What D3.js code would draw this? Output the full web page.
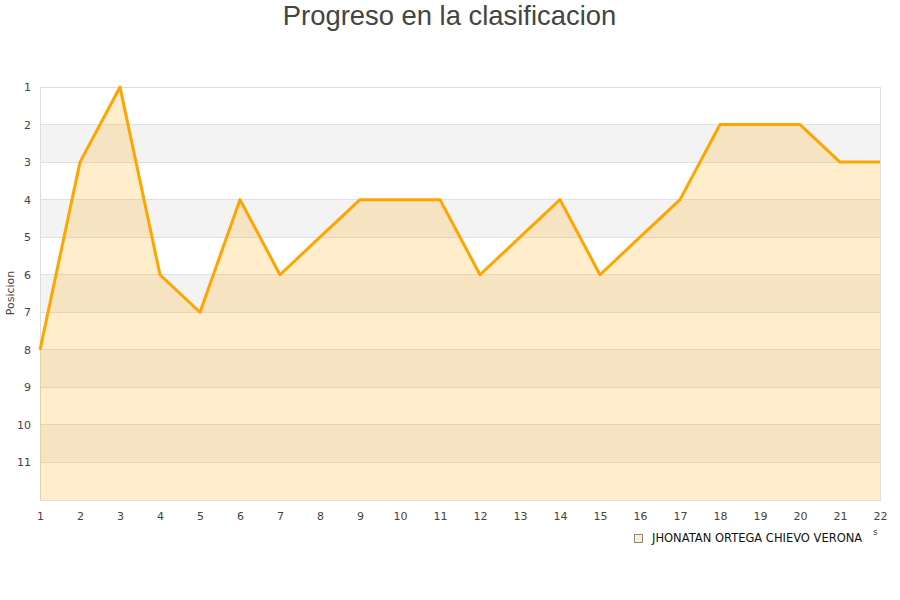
<!DOCTYPE html>
<html>
<head>
<meta charset="utf-8">
<script src="https://cdn.jsdelivr.net/npm/d3@7"></script>
<style>
  body { margin: 0; background: #fff; }
  text { font-family: "DejaVu Sans", sans-serif; }
</style>
</head>
<body>
<div id="chart"></div>
<script>
var width = 900;
var height = 600;

// jornadas y posicion
var jornadas = [1, 2, 3, 4, 5, 6, 7, 8, 9, 10, 11, 12, 13, 14, 15, 16, 17, 18, 19, 20, 21, 22];
var posiciones = [8, 3, 1, 6, 7, 4, 6, 5, 4, 4, 4, 6, 5, 4, 6, 5, 4, 2, 2, 2, 3, 3];
var yTicks = [1, 2, 3, 4, 5, 6, 7, 8, 9, 10, 11];
var serieNombre = "JHONATAN ORTEGA CHIEVO VERONA";

var mLeft = 40, mRight = 880, mTop = 87, mBottom = 500;

var svg = d3.select("#chart")
    .append("svg")
        .attr("width", width)
        .attr("height", height);

var x = d3.scaleLinear().domain([1, 22]).range([mLeft, mRight]);
var y = d3.scaleLinear().domain([1, 12]).range([mTop, mBottom]);

// bandas alternas
var bandas = d3.range(1, 12);
svg.selectAll(".band").data(bandas).enter().append("rect")
    .attr("x", mLeft)
    .attr("y", d => y(d))
    .attr("width", mRight - mLeft)
    .attr("height", d => y(d + 1) - y(d))
    .attr("fill", d => d % 2 === 0 ? "#f3f3f3" : "#ffffff");

// lineas de cuadricula
svg.selectAll(".grid").data(d3.range(2, 12)).enter().append("line")
    .attr("x1", mLeft).attr("x2", mRight)
    .attr("y1", d => Math.floor(y(d)) + 0.5).attr("y2", d => Math.floor(y(d)) + 0.5)
    .attr("stroke", "#e0e0e0")
    .attr("stroke-width", 1);

// marco
svg.append("rect")
    .attr("x", mLeft + 0.5).attr("y", mTop + 0.5)
    .attr("width", mRight - mLeft).attr("height", mBottom - mTop)
    .attr("fill", "none")
    .attr("stroke", "#dddddd");

var datos = jornadas.map((j, i) => ({j: j, p: posiciones[i]}));

var area = d3.area()
    .x(d => x(d.j))
    .y0(mBottom)
    .y1(d => y(d.p));

var line = d3.line()
    .x(d => x(d.j))
    .y(d => y(d.p));

svg.append("path")
    .datum(datos)
    .attr("d", area)
    .attr("fill", "rgba(255,165,0,0.2)");

svg.append("path")
    .datum(datos)
    .attr("d", line)
    .attr("fill", "none")
    .attr("stroke", "#ffa500")
    .attr("stroke-width", 3)
    .attr("stroke-linejoin", "round");

// ejes
var yAxis = d3.axisLeft(y).tickValues(yTicks).tickSize(0).tickPadding(9);
var gy = svg.append("g").attr("transform", `translate(${mLeft},0)`).call(yAxis);
gy.select(".domain").remove();
gy.selectAll("text").attr("fill", "#444").style("font-size", "11px")
    .style("font-family", "DejaVu Sans, sans-serif");

var xAxis = d3.axisBottom(x).tickValues(jornadas).tickSize(0).tickPadding(12);
var gx = svg.append("g").attr("transform", `translate(0,${mBottom})`).call(xAxis);
gx.select(".domain").remove();
gx.selectAll("text").attr("fill", "#444").style("font-size", "11px")
    .style("font-family", "DejaVu Sans, sans-serif");

// titulo eje y
svg.append("text")
    .attr("transform", "translate(14,293) rotate(-90)")
    .attr("text-anchor", "middle")
    .attr("fill", "#444")
    .style("font-size", "11px")
    .text("Posicion");

// titulo
svg.append("text")
    .attr("x", 449.5).attr("y", 25)
    .attr("text-anchor", "middle")
    .attr("fill", "#444")
    .style("font-family", "Liberation Sans, Arial, sans-serif")
    .style("font-size", "27.4px")
    .text("Progreso en la clasificacion");

// leyenda
svg.append("rect")
    .attr("x", 634.5).attr("y", 534.5)
    .attr("width", 8).attr("height", 8)
    .attr("fill", "#ffedcc")
    .attr("stroke", "#888")
    .attr("stroke-width", 1);

svg.append("text")
    .attr("x", 652).attr("y", 542)
    .attr("fill", "#111")
    .style("font-size", "11.5px")
    .text(serieNombre);

// restos del titulo del eje x
svg.append("text")
    .attr("x", 873).attr("y", 535)
    .attr("fill", "#444")
    .style("font-size", "9px")
    .text("s");
</script>
</body>
</html>
